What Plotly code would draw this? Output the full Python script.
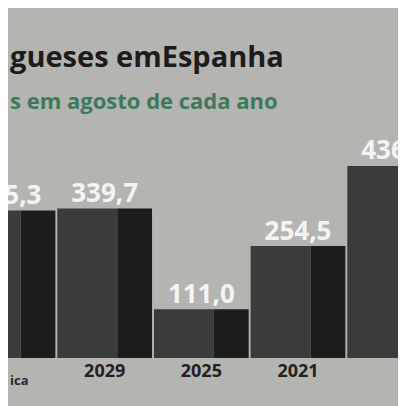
import plotly.graph_objects as go

categories = ["18", "2029", "2025", "2021", "2022"]
values = [335.3, 339.7, 111.0, 254.5, 436.5]
labels = ["335,3", "339,7", "111,0", "254,5", "436,5"]

x = list(range(len(categories)))
fig = go.Figure()
fig.add_bar(x=x, y=values, width=0.62, offset=-0.49, marker_color="#3a3c3c", marker_line_width=0)
fig.add_bar(x=x, y=values, width=0.36, offset=0.13, marker_color="#1c1d1d", marker_line_width=0)
fig.add_scatter(x=x, y=values, mode="text", text=labels, textposition="top center",
                cliponaxis=False,
                textfont=dict(family="Open Sans", size=26, color="#f4f4f4", weight="bold"))
H = 406; t = 130; b = 56; ph = H - t - b
fig.update_layout(
    width=406, height=406, barmode="overlay", showlegend=False,
    paper_bgcolor="#b4b4b0", plot_bgcolor="rgba(0,0,0,0)",
    margin=dict(l=0, r=0, t=t, b=b),
    xaxis=dict(range=[0.0, 4.2], tickvals=x, ticktext=categories, showgrid=False,
               zeroline=False, showline=False,
               tickfont=dict(family="Open Sans", size=18, color="#222222", weight="bold")),
    yaxis=dict(range=[0, 500], visible=False),
    annotations=[
        dict(text="<b>gueses emEspanha</b>", x=0.0, y=(H - b - 48) / ph, xref="paper", yref="paper",
             xanchor="left", yanchor="middle", showarrow=False,
             font=dict(family="Open Sans", size=29, color="#1c1c1c")),
        dict(text="<b>s em agosto de cada ano</b>", x=0.0, y=(H - b - 92) / ph, xref="paper", yref="paper",
             xanchor="left", yanchor="middle", showarrow=False,
             font=dict(family="Open Sans", size=22, color="#3d7a5a")),
        dict(text="<b>ica</b>", x=0.0, y=(H - b - 372) / ph, xref="paper", yref="paper",
             xanchor="left", yanchor="middle", showarrow=False,
             font=dict(family="Open Sans", size=13, color="#2a2a2a")),
    ],
)
fig.write_html("out.html")
